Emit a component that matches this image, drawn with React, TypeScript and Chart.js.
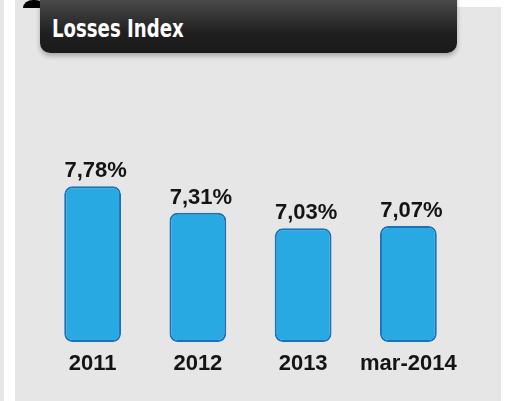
import React, { useEffect, useRef } from "react";
import { Chart, registerables } from "chart.js";

Chart.register(...registerables);

const categories = ["2011", "2012", "2013", "mar-2014"];
const lossValues = [7.78, 7.31, 7.03, 7.07];
const titleText = "Losses Index";

const BAR_FILL = "#28a9e1";
const BAR_BORDER = "#1b72b9";
const TEXT_DARK = "#141414";
const PANEL = "#e6e6e6";
const AXIS_MIN = 5;
const AXIS_MAX = 8.5;

const valueLabelPlugin = {
  id: "valueLabels",
  afterDatasetsDraw(chart: any) {
    const ctx = chart.ctx;
    const meta = chart.getDatasetMeta(0);
    ctx.save();
    ctx.font = "bold 22px 'Liberation Sans', Arial, sans-serif";
    ctx.fillStyle = TEXT_DARK;
    ctx.textAlign = "center";
    ctx.textBaseline = "alphabetic";
    meta.data.forEach((bar: any, i: number) => {
      const v = chart.data.datasets[0].data[i] as number;
      const txt = v.toFixed(2).replace(".", ",") + "%";
      ctx.fillText(txt, bar.x + 3, bar.y - 9);
    });
    ctx.restore();
  },
};

function LossesChart() {
  const ref = useRef<HTMLCanvasElement | null>(null);
  useEffect(() => {
    if (!ref.current) return;
    const chart = new Chart(ref.current, {
      type: "bar",
      data: {
        labels: categories,
        datasets: [
          {
            data: lossValues,
            base: AXIS_MIN,
            backgroundColor: BAR_FILL,
            borderColor: BAR_BORDER,
            borderWidth: 2,
            borderRadius: 8,
            borderSkipped: false,
            categoryPercentage: 1,
            barPercentage: 0.54,
          },
        ],
      },
      options: {
        animation: false,
        responsive: false,
        maintainAspectRatio: false,
        layout: { padding: { left: 40, right: 70, top: 146, bottom: 14.6 } },
        plugins: {
          legend: { display: false },
          tooltip: { enabled: false },
          title: { display: false },
        },
        scales: {
          x: {
            grid: { display: false, drawTicks: false },
            border: { display: false },
            ticks: {
              padding: 9,
              color: TEXT_DARK,
              font: { family: "'Liberation Sans', Arial, sans-serif", size: 22, weight: "bold" },
            },
          },
          y: {
            display: false,
            min: AXIS_MIN,
            max: AXIS_MAX,
          },
        },
      },
      plugins: [valueLabelPlugin],
    });
    return () => chart.destroy();
  }, []);
  return (
    <canvas
      ref={ref}
      width={531}
      height={401}
      style={{ position: "absolute", left: 0, top: 0, width: 531, height: 401 }}
    />
  );
}

export default function App() {
  return (
    <div
      style={{
        position: "fixed",
        left: 0,
        top: 0,
        width: 531,
        height: 401,
        background: "#ffffff",
        overflow: "hidden",
      }}
    >
      <div style={{ position: "absolute", left: 0, top: 0, width: 4, height: 401, background: PANEL }} />
      <div style={{ position: "absolute", left: 15, top: 7, width: 486, height: 394, background: PANEL }} />
      <div style={{ position: "absolute", left: 15, top: 0, width: 30, height: 8, background: PANEL }} />
      <div
        style={{
          position: "absolute",
          left: 23,
          top: 0,
          width: 22,
          height: 8,
          borderTopLeftRadius: "10px 8px",
          borderTopRightRadius: "10px 8px",
          background: "#000",
        }}
      />
      <div
        style={{
          position: "absolute",
          left: 40,
          top: -12,
          width: 417,
          height: 65,
          borderRadius: 10,
          background: "linear-gradient(#5a5a5a 0%, #3c3c3c 35%, #1f1f1f 70%, #1a1a1a 100%)",
          boxShadow: "0 3px 5px rgba(0,0,0,0.28)",
        }}
      />
      <div
        style={{
          position: "absolute",
          left: 52,
          top: 14,
          height: 30,
          lineHeight: "30px",
          color: "#ffffff",
          fontFamily: "'DejaVu Sans Condensed', sans-serif",
          fontWeight: "bold",
          fontSize: 24,
          whiteSpace: "nowrap",
          transform: "scaleX(0.84)",
          transformOrigin: "left center",
        }}
      >
        {titleText}
      </div>
      <LossesChart />
    </div>
  );
}
